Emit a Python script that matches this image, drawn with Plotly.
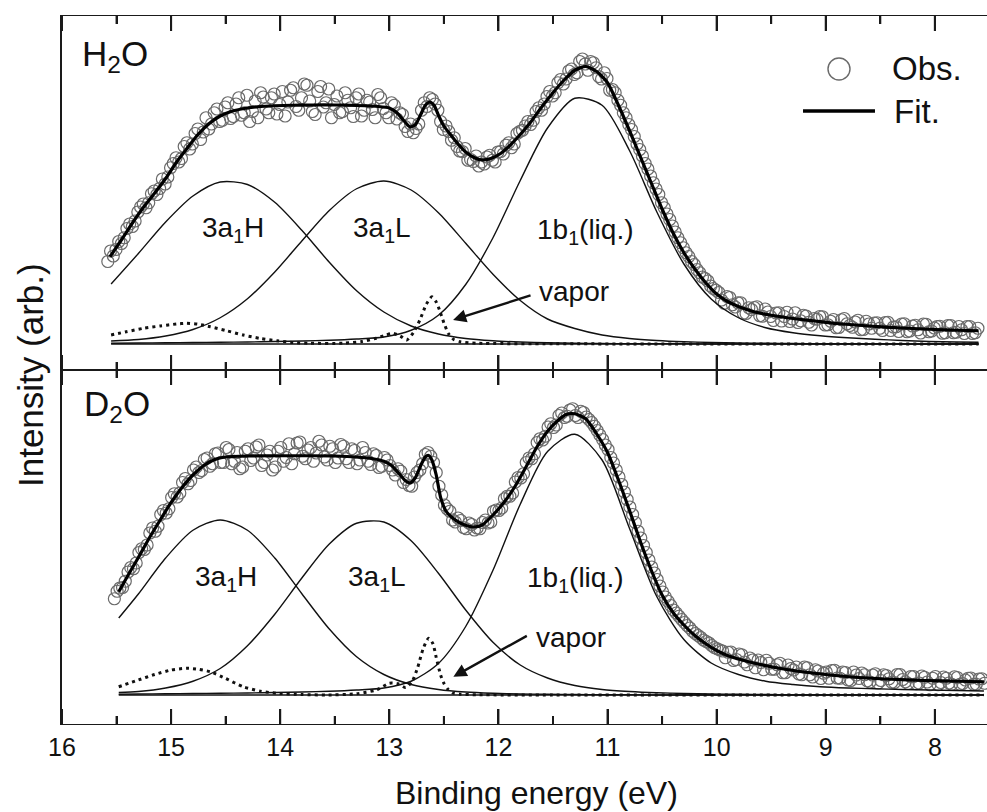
import plotly.graph_objects as go

# ---------------- DATA (binding energy in eV, intensity in arb. units) ----------------
# Observed spectra: two interleaved sampling grids per panel
obs_E_h2o = [round(15.58 - 0.05 * i, 3) for i in range(160)]
obs_h2o = [330, 352, 410, 425, 480, 492, 548, 545, 601, 598,
           660, 668, 722, 728, 790, 780, 842, 818, 905, 880,
           940, 895, 965, 910, 985, 925, 890, 972, 1005, 940,
           985, 920, 1010, 968, 1025, 935, 1040, 972, 918, 1030,
           965, 905, 992, 930, 975, 910, 1000, 935, 968, 905,
           985, 925, 965, 900, 918, 850, 845, 880, 965, 985,
           960, 890, 872, 815, 790, 770, 735, 730, 712, 720,
           755, 728, 770, 795, 785, 842, 855, 890, 895, 945,
           960, 1010, 1005, 1058, 1060, 1100, 1085, 1140, 1095, 1125,
           1070, 1085, 1015, 1005, 955, 905, 858, 800, 752, 700,
           645, 598, 545, 498, 448, 405, 365, 330, 298, 268,
           252, 222, 206, 163, 186, 148, 165, 122, 138, 149,
           111, 128, 94, 125, 110, 90, 125, 93, 112, 76,
           99, 109, 77, 98, 66, 102, 74, 88, 57, 91,
           63, 85, 54, 87, 68, 50, 81, 52, 75, 44,
           79, 52, 70, 43, 74, 45, 70, 42, 70, 45]
obs_E_h2o_b = [round(15.555 - 0.05 * i, 3) for i in range(160)]
obs_h2o_b = [372, 378, 402, 462, 470, 528, 560, 565, 612, 622,
             640, 705, 745, 742, 805, 800, 860, 848, 860, 925,
             890, 948, 902, 960, 915, 995, 930, 905, 988, 925,
             1000, 958, 912, 1015, 950, 985, 1035, 930, 1010, 948,
             1020, 958, 925, 1005, 945, 985, 912, 975, 938, 998,
             942, 905, 955, 925, 870, 880, 862, 935, 950, 978,
             935, 858, 850, 825, 772, 782, 738, 752, 728, 748,
             735, 768, 760, 805, 800, 850, 872, 878, 930, 935,
             990, 992, 1045, 1040, 1092, 1078, 1130, 1120, 1130, 1105,
             1060, 1062, 1018, 975, 925, 878, 830, 778, 722, 672,
             620, 565, 520, 472, 425, 385, 350, 318, 285, 262,
             232, 215, 176, 190, 157, 165, 123, 145, 146, 113,
             140, 110, 124, 92, 127, 100, 86, 115, 87, 102,
             110, 76, 91, 65, 97, 81, 67, 95, 58, 80,
             84, 63, 86, 54, 69, 80, 49, 72, 57, 80,
             49, 64, 71, 45, 74, 47, 57, 70, 42, 63]

obs_E_d2o = [round(15.52 - 0.05 * i, 3) for i in range(160)]
obs_d2o = [385, 428, 455, 510, 528, 585, 600, 668, 675, 738,
           745, 805, 808, 866, 858, 912, 898, 948, 925, 968,
           930, 982, 935, 905, 975, 938, 992, 918, 960, 900,
           975, 935, 1005, 965, 1012, 945, 990, 968, 1000, 940,
           985, 948, 995, 930, 978, 940, 970, 922, 958, 915,
           940, 900, 905, 850, 838, 872, 900, 962, 955, 890,
           800, 745, 700, 708, 670, 688, 660, 665, 700, 692,
           740, 748, 795, 808, 870, 885, 948, 965, 1025, 1035,
           1085, 1080, 1128, 1115, 1145, 1110, 1130, 1102, 1075, 1040,
           1000, 950, 900, 842, 782, 722, 655, 598, 540, 488,
           436, 392, 358, 328, 302, 278, 255, 238, 220, 208,
           190, 180, 149, 172, 142, 161, 121, 140, 140, 101,
           127, 103, 127, 89, 106, 112, 81, 109, 72, 96,
           87, 67, 99, 67, 90, 58, 80, 88, 57, 80,
           48, 81, 65, 50, 82, 53, 74, 45, 76, 52,
           67, 41, 72, 48, 73, 43, 60, 68, 43, 65]
obs_E_d2o_b = [round(15.495 - 0.05 * i, 3) for i in range(160)]
obs_d2o_b = [415, 430, 492, 505, 570, 582, 648, 655, 722, 728,
             790, 792, 850, 845, 900, 890, 942, 915, 965, 930,
             990, 925, 970, 912, 985, 948, 1000, 930, 975, 912,
             990, 950, 925, 1008, 955, 980, 935, 1015, 952, 995,
             930, 1002, 945, 985, 925, 990, 935, 965, 910, 950,
             918, 880, 895, 862, 835, 890, 925, 970, 930, 835,
             760, 735, 692, 698, 665, 682, 668, 690, 688, 735,
             738, 785, 795, 852, 868, 930, 945, 1010, 1020, 1072,
             1070, 1118, 1110, 1140, 1118, 1135, 1112, 1090, 1058, 1022,
             982, 928, 872, 812, 752, 690, 628, 570, 512, 462,
             412, 375, 340, 315, 290, 268, 246, 230, 214, 198,
             185, 176, 171, 138, 164, 132, 148, 109, 130, 139,
             103, 121, 89, 120, 100, 84, 112, 81, 101, 66,
             92, 98, 68, 92, 60, 92, 66, 81, 52, 85,
             58, 78, 51, 82, 62, 46, 74, 48, 71, 41,
             74, 50, 67, 43, 70, 46, 67, 43, 64, 47]

# Fitted envelopes
fit_E_h2o = [15.56, 15.45, 15.35, 15.25, 15.15, 15.05, 14.95, 14.85, 14.75, 14.65,
             14.55, 14.45, 14.3, 14.1, 13.9, 13.7, 13.5, 13.3, 13.1, 13.0,
             12.93, 12.87, 12.81, 12.76, 12.71, 12.67, 12.63, 12.59, 12.55, 12.5,
             12.44, 12.37, 12.3, 12.22, 12.15, 12.07, 11.98, 11.9, 11.8, 11.7,
             11.6, 11.5, 11.4, 11.3, 11.2, 11.1, 11.0, 10.9, 10.8, 10.7,
             10.6, 10.5, 10.4, 10.3, 10.2, 10.1, 10.0, 9.9, 9.8, 9.65,
             9.5, 9.3, 9.1, 8.9, 8.6, 8.3, 8.0, 7.8, 7.6]
fit_h2o = [349, 420, 487, 549, 604, 662, 728, 785, 840, 882,
           912, 930, 944, 952, 955, 956, 956, 954, 950, 944,
           925, 895, 868, 878, 920, 955, 968, 955, 915, 872,
           838, 800, 768, 745, 736, 742, 762, 792, 838, 890,
           950, 1005, 1055, 1095, 1110, 1090, 1045, 955, 855, 750,
           645, 540, 445, 365, 300, 245, 200, 170, 150, 128,
           115, 102, 92, 82, 72, 64, 58, 55, 53]

fit_E_d2o = [15.48, 15.4, 15.3, 15.2, 15.1, 15.0, 14.9, 14.8, 14.7, 14.6,
             14.5, 14.3, 14.1, 13.9, 13.7, 13.5, 13.3, 13.15, 13.05, 12.98,
             12.92, 12.86, 12.81, 12.76, 12.71, 12.67, 12.64, 12.61, 12.57, 12.53,
             12.48, 12.42, 12.35, 12.28, 12.22, 12.15, 12.05, 11.95, 11.85, 11.75,
             11.65, 11.55, 11.45, 11.38, 11.3, 11.2, 11.1, 11.0, 10.9, 10.8,
             10.7, 10.6, 10.5, 10.4, 10.3, 10.2, 10.1, 10.0, 9.9, 9.75,
             9.6, 9.4, 9.2, 9.0, 8.7, 8.4, 8.1, 7.8, 7.55]
fit_d2o = [413, 475, 550, 628, 700, 770, 830, 880, 918, 942,
           952, 956, 957, 957, 957, 956, 952, 945, 935, 918,
           890, 860, 848, 870, 920, 952, 958, 940, 880, 790,
           735, 708, 688, 676, 672, 680, 720, 770, 833, 910,
           990, 1055, 1100, 1122, 1125, 1105, 1045, 970, 860, 740,
           615, 500, 400, 330, 280, 238, 205, 178, 158, 138,
           122, 105, 92, 82, 70, 63, 58, 55, 53]

# Fitted components (liquid bands)
comp_E_h2o = [15.55, 15.3, 15.05, 14.8, 14.55, 14.3, 14.05, 13.8, 13.55, 13.3, 13.05,
              12.8, 12.55, 12.3, 12.05, 11.8, 11.55, 11.3, 11.05, 10.8, 10.55, 10.3,
              10.05, 9.8, 9.55, 9.3, 9.05, 8.8, 8.55, 8.3, 8.05, 7.8, 7.6]
h2o_3a1H = [240, 362, 488, 592, 648, 638, 567, 454, 327, 213, 128,
            72, 40, 22, 13, 8, 5, 3, 2, 1, 1, 1,
            0, 0, 0, 0, 0, 0, 0, 0, 0, 0, 0]
h2o_3a1L = [12, 18, 32, 58, 105, 181, 288, 413, 534, 621, 652,
            616, 525, 403, 279, 174, 100, 62, 36, 22, 14, 9,
            6, 4, 3, 2, 1, 1, 1, 0, 0, 0, 0]
h2o_1b1 = [3, 4, 5, 6, 7, 8, 10, 12, 15, 20, 28,
           55, 115, 238, 425, 654, 864, 983, 955, 775, 530, 320,
           180, 105, 65, 45, 33, 25, 19, 14, 10, 8, 7]

comp_E_d2o = [15.48, 15.3, 15.05, 14.8, 14.55, 14.3, 14.05, 13.8, 13.55, 13.3, 13.05,
              12.8, 12.55, 12.3, 12.05, 11.8, 11.55, 11.3, 11.05, 10.8, 10.55, 10.3,
              10.05, 9.8, 9.55, 9.3, 9.05, 8.8, 8.55, 8.3, 8.05, 7.8, 7.55]
d2o_3a1H = [308, 404, 548, 659, 700, 659, 548, 404, 264, 153, 82,
            42, 22, 12, 7, 4, 3, 2, 1, 1, 0, 0,
            0, 0, 0, 0, 0, 0, 0, 0, 0, 0, 0]
d2o_3a1L = [10, 14, 28, 55, 106, 197, 323, 469, 604, 687, 692,
            617, 487, 340, 211, 120, 68, 38, 22, 14, 9, 6,
            4, 3, 2, 1, 1, 1, 0, 0, 0, 0, 0]
d2o_1b1 = [3, 4, 5, 6, 7, 8, 10, 12, 15, 20, 28,
           55, 126, 274, 499, 763, 974, 1043, 940, 668, 395, 222,
           128, 82, 55, 42, 33, 28, 25, 22, 20, 18, 16]

# Vapor contributions (dotted)
vap_E_h2o = [15.55, 15.41, 15.25, 15.1, 14.95, 14.86, 14.75, 14.64, 14.5, 14.34,
             14.18, 14.03, 13.88, 13.73, 13.42, 13.25, 13.12, 13.03, 12.97, 12.9,
             12.84, 12.78, 12.72, 12.66, 12.61, 12.57, 12.54, 12.5, 12.46, 12.41,
             12.35, 12.2, 11.5, 10.5, 9.5, 8.5, 7.6]
vap_h2o = [36, 49, 63, 72, 80, 83, 79, 69, 54, 36,
           22, 13, 6, 3, 3, 10, 23, 36, 43, 32,
           16, 45, 96, 160, 189, 168, 136, 85, 43, 18,
           9, 3, 1, 0, 0, 0, 0]
vap_E_d2o = [15.48, 15.3, 15.15, 15.0, 14.86, 14.75, 14.64, 14.5, 14.34, 14.18,
             14.03, 13.8, 13.58, 13.3, 13.12, 13.0, 12.92, 12.85, 12.79, 12.74,
             12.69, 12.64, 12.6, 12.57, 12.53, 12.5, 12.46, 12.42, 12.35, 12.2,
             11.5, 10.5, 9.5, 8.5, 7.55]
vap_d2o = [33, 60, 82, 100, 107, 103, 93, 66, 33, 15,
           7, 2, 0, 5, 20, 47, 45, 30, 55, 110,
           185, 227, 205, 150, 80, 47, 22, 8, 3, 1,
           0, 0, 0, 0, 0]

# Flat background lines
bg_E_h2o = [15.55, 7.6]
bg_h2o = [0, 0]
bg_E_d2o = [15.48, 7.55]
bg_d2o = [0, 0]

x_ticks = [8, 9, 10, 11, 12, 13, 14, 15, 16]
x_minor_ticks = [8.5, 9.5, 10.5, 11.5, 12.5, 13.5, 14.5, 15.5]

# ---------------- FIGURE ----------------
W, H = 987, 812
FONT = "Liberation Sans, Arial, Helvetica, sans-serif"
INK = "#111111"
FRAME = "#1a1a1a"
OBS_COLOR = "#6a6a6a"
PANEL_PX = 354.0          # height of each panel in pixels
MAJOR_LEN, MINOR_LEN = 15, 8

fig = go.Figure()


def add_panel(xa, ya, oE, oV, fE, fV, cE, c1, c2, c3, vE, vV, bE, bV):
    fig.add_trace(go.Scatter(x=oE, y=oV, mode="markers", xaxis=xa, yaxis=ya,
                             marker=dict(symbol="circle-open", size=12, color=OBS_COLOR,
                                         line=dict(width=1.2)),
                             hoverinfo="skip"))
    for comp in (c1, c2, c3):
        fig.add_trace(go.Scatter(x=cE, y=comp, mode="lines", xaxis=xa, yaxis=ya,
                                 line=dict(color=INK, width=1.4, shape="spline", smoothing=0.8),
                                 hoverinfo="skip"))
    fig.add_trace(go.Scatter(x=bE, y=bV, mode="lines", xaxis=xa, yaxis=ya,
                             line=dict(color=INK, width=1.4), hoverinfo="skip"))
    fig.add_trace(go.Scatter(x=vE, y=vV, mode="lines", xaxis=xa, yaxis=ya,
                             line=dict(color=INK, width=3, dash="3px,4px",
                                       shape="spline", smoothing=0.6),
                             hoverinfo="skip"))
    fig.add_trace(go.Scatter(x=fE, y=fV, mode="lines", xaxis=xa, yaxis=ya,
                             line=dict(color="#000000", width=3.2, shape="spline", smoothing=0.6),
                             hoverinfo="skip"))


add_panel("x", "y", obs_E_h2o + obs_E_h2o_b, obs_h2o + obs_h2o_b, fit_E_h2o, fit_h2o,
          comp_E_h2o, h2o_3a1H, h2o_3a1L, h2o_1b1, vap_E_h2o, vap_h2o, bg_E_h2o, bg_h2o)
add_panel("x2", "y2", obs_E_d2o + obs_E_d2o_b, obs_d2o + obs_d2o_b, fit_E_d2o, fit_d2o,
          comp_E_d2o, d2o_3a1H, d2o_3a1L, d2o_1b1, vap_E_d2o, vap_d2o, bg_E_d2o, bg_d2o)

xcommon = dict(range=[16, 7.522], showline=True, linecolor=FRAME, linewidth=1.4,
               mirror="ticks", ticks="inside", ticklen=MAJOR_LEN, tickwidth=2, tickcolor=FRAME,
               tickvals=x_ticks, showgrid=False, zeroline=False,
               minor=dict(ticks="inside", ticklen=MINOR_LEN, dtick=0.5, tick0=0,
                          tickcolor=FRAME, tickwidth=2, showgrid=False))
ycommon = dict(showline=True, linecolor=FRAME, linewidth=1.5,
               showticklabels=False, showgrid=False, zeroline=False)

fig.update_layout(
    width=W, height=H,
    margin=dict(l=62, r=0, t=16, b=88),
    paper_bgcolor="white", plot_bgcolor="white",
    showlegend=False,
    font=dict(family=FONT, color=INK),
    xaxis=dict(xcommon, anchor="y", showticklabels=False),
    yaxis=dict(ycommon, domain=[0.5, 1], range=[-104, 1312]),
    xaxis2=dict(xcommon, anchor="y2", matches="x",
                tickfont=dict(size=25, family=FONT, color=INK), ticklabelstandoff=1),
    yaxis2=dict(ycommon, domain=[0, 0.5], range=[-116, 1300]),
)

# Inward tick marks on the top and bottom edge of each panel (drawn as shapes
# anchored to the x axis values and to each panel's domain)
for xr, yr in (("x", "y domain"), ("x2", "y2 domain")):
    for vals, length in ((x_ticks, MAJOR_LEN), (x_minor_ticks, MINOR_LEN)):
        frac = length / PANEL_PX
        for v in vals:
            for base, tip in ((0.0, frac), (1.0, 1.0 - frac)):
                fig.add_shape(type="line", xref=xr, yref=yr, x0=v, x1=v, y0=base, y1=tip,
                              line=dict(color=FRAME, width=2), layer="above")

ann = []


def label(text, x, y, xr, yr, size=27, xanchor="center"):
    ann.append(dict(text=text, x=x, y=y, xref=xr, yref=yr, showarrow=False,
                    xanchor=xanchor, yanchor="middle",
                    font=dict(size=size, family=FONT, color=INK)))


# Panel labels
label("H<sub>2</sub>O", 15.835, 1152, "x", "y", size=35, xanchor="left")
label("D<sub>2</sub>O", 15.817, 1158, "x2", "y2", size=35, xanchor="left")
# Component labels (top)
label("3a<sub>1</sub>H", 14.433, 458, "x", "y", size=28)
label("3a<sub>1</sub>L", 13.067, 458, "x", "y", size=28)
label("1b<sub>1</sub>(liq.)", 11.206, 450, "x", "y", size=28)
label("vapor", 11.303, 210, "x", "y", size=28)
# Component labels (bottom)
label("3a<sub>1</sub>H", 14.497, 466, "x2", "y2", size=28)
label("3a<sub>1</sub>L", 13.116, 466, "x2", "y2", size=28)
label("1b<sub>1</sub>(liq.)", 11.298, 462, "x2", "y2", size=28)
label("vapor", 11.335, 232, "x2", "y2", size=28)

# Arrows pointing at vapor peaks
for xr, yr, tip, tail in (("x", "y", (12.416, 96), (11.692, 196)),
                          ("x2", "y2", (12.413, 73), (11.726, 240))):
    ann.append(dict(text="", x=tip[0], y=tip[1], ax=tail[0], ay=tail[1],
                    xref=xr, yref=yr, axref=xr, ayref=yr, showarrow=True,
                    arrowhead=2, arrowsize=1.1, arrowwidth=2.4, arrowcolor=INK))

# Axis titles
ann.append(dict(text="Binding energy (eV)", x=0.5135, y=-0.097, xref="paper", yref="paper",
                showarrow=False, xanchor="center", yanchor="middle",
                font=dict(size=32, family=FONT, color=INK)))
ann.append(dict(text="Intensity (arb.)", x=-0.0346, y=0.4929, xref="paper", yref="paper",
                showarrow=False, xanchor="center", yanchor="middle", textangle=-90,
                font=dict(size=35, family=FONT, color=INK)))

# Legend (drawn manually to match the reference layout)
ann.append(dict(text="Obs.", x=0.8951, y=0.9258, xref="paper", yref="paper", showarrow=False,
                xanchor="left", yanchor="middle", font=dict(size=33, family=FONT, color=INK)))
ann.append(dict(text="Fit.", x=0.8973, y=0.8658, xref="paper", yref="paper", showarrow=False,
                xanchor="left", yanchor="middle", font=dict(size=33, family=FONT, color=INK)))
fig.update_layout(annotations=ann)

fig.add_shape(type="circle", xref="paper", yref="paper",
              x0=0.8281, x1=0.8519, y0=0.9096, y1=0.9407,
              line=dict(color=OBS_COLOR, width=1.4))
fig.add_shape(type="line", xref="paper", yref="paper",
              x0=0.8011, x1=0.8789, y0=0.8658, y1=0.8658,
              line=dict(color="#000000", width=3.5))

fig.write_html("out.html", config={"displayModeBar": False},
               post_script="document.body.style.margin='0px';")
